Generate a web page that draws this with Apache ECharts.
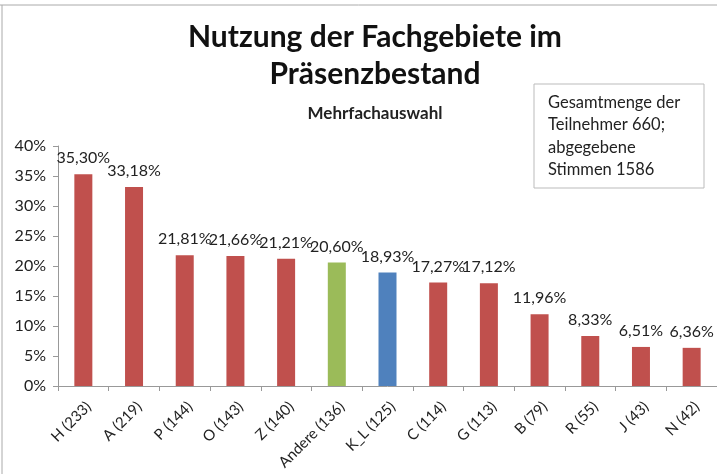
<!DOCTYPE html>
<html><head><meta charset="utf-8">
<script src="https://cdn.jsdelivr.net/npm/echarts@6/dist/echarts.min.js"></script>
<style>html,body{margin:0;padding:0;background:#fff}#c{width:717px;height:474px}</style>
</head><body><div id="c"></div>
<script>
const categories = ['H (233)','A (219)','P (144)','O (143)','Z (140)','Andere (136)','K_L (125)','C (114)','G (113)','B (79)','R (55)','J (43)','N (42)'];
const values = [35.30, 33.18, 21.81, 21.66, 21.21, 20.60, 18.93, 17.27, 17.12, 11.96, 8.33, 6.51, 6.36];
const barColors = ['#c0504d','#c0504d','#c0504d','#c0504d','#c0504d','#9bbb59','#4f81bd','#c0504d','#c0504d','#c0504d','#c0504d','#c0504d','#c0504d'];
const yTicks = [0,5,10,15,20,25,30,35,40];
const titleLines = ['Nutzung der Fachgebiete im','Präsenzbestand'];
const subtitleText = 'Mehrfachauswahl';
const noteLines = ['Gesamtmenge der','Teilnehmer 660;','abgegebene','Stimmen 1586'];

const FONT = 'Lato';
const chart = echarts.init(document.getElementById('c'));
chart.setOption({
  backgroundColor:'#fff',
  animation:false,
  textStyle:{fontFamily:FONT},
  title:[
    {text:titleLines.join('\n'), left:370, top:14, textAlign:'center',
     textStyle:{fontFamily:FONT,fontWeight:'bold',fontSize:30,color:'#111',lineHeight:37}},
    {text:subtitleText, left:370, top:100, textAlign:'center',
     textStyle:{fontFamily:FONT,fontWeight:'bold',fontSize:17,color:'#222'}}
  ],
  grid:{left:58, top:146, width:666, height:240, containLabel:false},
  xAxis:{type:'category', data:categories,
    axisLine:{lineStyle:{color:'#999'}},
    axisTick:{show:true, alignWithLabel:false, length:5, lineStyle:{color:'#999'}},
    axisLabel:{rotate:45, interval:0, fontSize:15, color:'#222', fontFamily:FONT, margin:13, verticalAlign:'top'}
  },
  yAxis:{type:'value', min:0, max:40, interval:5,
    axisLine:{show:true, lineStyle:{color:'#999'}},
    axisTick:{show:true, length:5, lineStyle:{color:'#999'}},
    splitLine:{show:false},
    axisLabel:{formatter:v=>v+'%', fontSize:16, color:'#222', fontFamily:FONT, margin:12}
  },
  series:[{type:'bar', barWidth:18,
    data:values.map((v,i)=>({value:v, itemStyle:{color:barColors[i]}})),
    label:{show:true, position:'top', distance:8, fontSize:16, color:'#222', fontFamily:FONT,
      formatter:p=>p.value.toFixed(2).replace('.',',')+'%'}
  }],
  graphic:[
    {type:'line', shape:{x1:0,y1:5,x2:717,y2:5}, style:{stroke:'#aaa',lineWidth:1}},
    {type:'line', shape:{x1:2,y1:5,x2:2,y2:474}, style:{stroke:'#aaa',lineWidth:1}},
    {type:'rect', shape:{x:534,y:84,width:170,height:104}, style:{fill:'#fff',stroke:'#bbb',lineWidth:1}},
    {type:'text', left:548, top:91, style:{text:noteLines.join('\n'), font:'16.5px '+FONT, fill:'#222', lineHeight:22.5}}
  ]
});
</script></body></html>
